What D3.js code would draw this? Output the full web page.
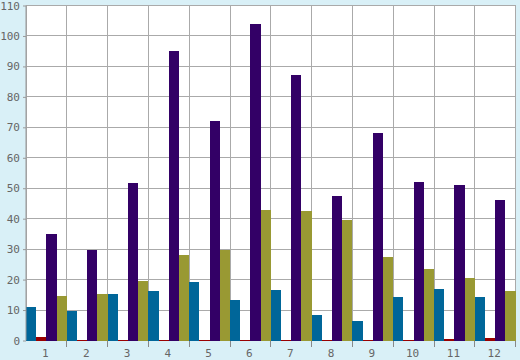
<!DOCTYPE html>
<html>
<head>
<meta charset="utf-8">
<script src="https://cdn.jsdelivr.net/npm/d3@7"></script>
<style>
html,body{margin:0;padding:0;background:#d9f0f7;}
svg{display:block;}
</style>
</head>
<body>
<svg id="chart" width="520" height="360"></svg>
<script>
const categories = ["1","2","3","4","5","6","7","8","9","10","11","12"];
const seriesNames = ["s1","s2","s3","s4"];
const seriesColors = ["#006699","#990000","#330066","#999933"];
const blueValues   = [11.0, 9.8, 15.3, 16.3, 19.2, 13.3, 16.6, 8.4, 6.4, 14.3, 16.9, 14.3];
const redValues    = [1.1, 0.3, 0.3, 0.3, 0.3, 0.3, 0.3, 0.3, 0.3, 0.3, 0.6, 0.9];
const purpleValues = [35.0, 29.7, 51.7, 95.1, 72.0, 103.9, 87.2, 47.5, 68.1, 52.1, 51.1, 46.1];
const oliveValues  = [14.6, 15.3, 19.5, 28.1, 29.7, 42.9, 42.5, 39.5, 27.4, 23.5, 20.5, 16.3];
const yTicks = [0,10,20,30,40,50,60,70,80,90,100,110];

const series = [blueValues, redValues, purpleValues, oliveValues];

const svg = d3.select("#chart");
const pLeft = 26, pRight = 515.6, pTop = 5.5, pBottom = 340.5;

const x = d3.scaleBand().domain(categories).range([pLeft, pRight]).padding(0);
const xi = d3.scaleBand().domain(seriesNames).range([0, x.bandwidth()]).padding(0);
const y = d3.scaleLinear().domain([0, 110]).range([pBottom, pTop]);

// plot background
svg.append("rect").attr("x", pLeft).attr("y", pTop).attr("width", pRight - pLeft).attr("height", pBottom - pTop).attr("fill", "#ffffff");

// grid
const grid = svg.append("g").attr("stroke", "#aaaaaa").attr("stroke-width", 1).attr("shape-rendering", "crispEdges");
grid.selectAll("line.h").data(yTicks).join("line")
  .attr("x1", pLeft).attr("x2", pRight)
  .attr("y1", d => y(d)).attr("y2", d => y(d));
const vb = categories.map(c => x(c)).concat([x(categories[categories.length-1]) + x.bandwidth()]);
grid.selectAll("line.v").data(vb).join("line")
  .attr("x1", d => d).attr("x2", d => d)
  .attr("y1", pTop).attr("y2", pBottom);

// bars
const g = svg.append("g").attr("shape-rendering", "crispEdges");
series.forEach((vals, si) => {
  g.append("g").attr("fill", seriesColors[si])
    .selectAll("rect").data(vals).join("rect")
    .attr("x", (d, i) => x(categories[i]) + xi(seriesNames[si]))
    .attr("width", xi.bandwidth())
    .attr("y", d => y(d))
    .attr("height", d => y(0) - y(d));
});

// y axis
const yAxis = d3.axisLeft(y).tickValues(yTicks).tickSize(3).tickPadding(3);
const ya = svg.append("g").attr("transform", `translate(${pLeft},0)`).call(yAxis);
ya.select(".domain").attr("stroke", "#999999").attr("d", `M0,${pTop}V${pBottom}`);
ya.selectAll(".tick line").attr("stroke", "#999999");
ya.selectAll("text").attr("fill", "#666666").style("font-family", "'DejaVu Sans Mono', monospace").style("font-size", "11px");

// x axis: ticks at category boundaries, labels at centers
const xa = svg.append("g").attr("shape-rendering", "crispEdges");
xa.selectAll("line").data(vb.slice(1)).join("line")
  .attr("x1", d => d).attr("x2", d => d)
  .attr("y1", pBottom).attr("y2", pBottom + 6)
  .attr("stroke", "#888888");
xa.selectAll("text").data(categories).join("text")
  .attr("x", d => x(d) + x.bandwidth() / 2 - 1)
  .attr("y", pBottom + 16)
  .attr("text-anchor", "middle")
  .attr("fill", "#666666")
  .style("font-family", "'DejaVu Sans Mono', monospace")
  .style("font-size", "11px")
  .text(d => d);
</script>
</body>
</html>
